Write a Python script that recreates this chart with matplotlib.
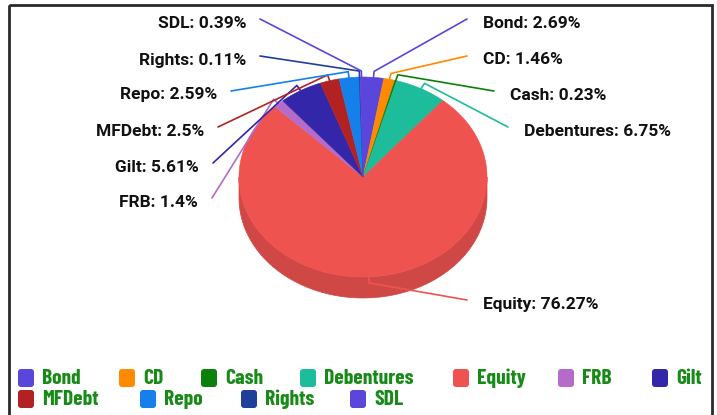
import numpy as np
import matplotlib
matplotlib.use("Agg")
import matplotlib.pyplot as plt
from matplotlib import font_manager as fm
from matplotlib.patches import Polygon, FancyBboxPatch, Rectangle

# ---------------- data ----------------
categories = ["Bond", "CD", "Cash", "Debentures", "Equity", "FRB", "Gilt",
              "MFDebt", "Repo", "Rights", "SDL"]
values = [2.69, 1.46, 0.23, 6.75, 76.27, 1.4, 5.61, 2.5, 2.59, 0.11, 0.39]
colors = ["#5a46da", "#ff8a00", "#0b800b", "#1dbc9a", "#ee5350", "#b56bc8",
          "#3326a8", "#b22222", "#1580ea", "#1f3f9a", "#5a46da"]
value_labels = ["2.69%", "1.46%", "0.23%", "6.75%", "76.27%", "1.4%", "5.61%",
                "2.5%", "2.59%", "0.11%", "0.39%"]

# ---------------- layout ----------------
W, H = 717, 415
cx, cy, rx, ry, depth = 363, 177, 124, 100, 21
# label anchor: (side, x, y); side 'L' -> right-aligned text ending at x
label_pos = {
    "SDL": ("L", 246, 23), "Rights": ("L", 246, 60), "Repo": ("L", 217, 95),
    "MFDebt": ("L", 204, 131), "Gilt": ("L", 199, 167), "FRB": ("L", 198, 202),
    "Bond": ("R", 483, 23), "CD": ("R", 483, 60), "Cash": ("R", 510, 95),
    "Debentures": ("R", 524, 131), "Equity": ("R", 483, 304),
}
legend_pos = {
    "Bond": (18, 378), "CD": (119, 378), "Cash": (201, 378), "Debentures": (300, 378),
    "Equity": (453, 378), "FRB": (558, 378), "Gilt": (652, 378),
    "MFDebt": (18, 399), "Repo": (140, 399), "Rights": (241, 399), "SDL": (350, 399),
}


def pick_font(cands, fallback):
    avail = {f.name for f in fm.fontManager.ttflist}
    for c in cands:
        if c in avail:
            return c
    return fallback


label_font = pick_font(["Roboto", "Liberation Sans"], "DejaVu Sans")
legend_font = pick_font(["Barlow Condensed", "Roboto Condensed", "Asap Condensed",
                         "Encode Sans Condensed", "Archivo Narrow"], "DejaVu Sans")


def darker(c, f=0.87):
    r, g, b = matplotlib.colors.to_rgb(c)
    return (r * f, g * f, b * f)


fig = plt.figure(figsize=(W / 100, H / 100), dpi=100)
ax = fig.add_axes([0, 0, 1, 1])
ax.set_xlim(0, W)
ax.set_ylim(H, 0)
ax.axis("off")


def pt(theta, r=1.0, dy=0.0):
    t = np.radians(theta)
    return cx + r * rx * np.sin(t), cy - r * ry * np.cos(t) + dy


total = sum(values)
bounds = np.concatenate([[0], np.cumsum(values)]) / total * 360.0

# side walls (front half: 90..270 deg)
for i in range(len(values)):
    a0, a1 = max(bounds[i], 90), min(bounds[i + 1], 270)
    if a1 <= a0:
        continue
    th = np.linspace(a0, a1, 120)
    top = np.array([pt(t) for t in th])
    bot = np.array([pt(t, dy=depth) for t in th[::-1]])
    ax.add_patch(Polygon(np.vstack([top, bot]), closed=True,
                         facecolor=darker(colors[i]), edgecolor=darker(colors[i]),
                         lw=0.5, zorder=1))

# top faces
for i in range(len(values)):
    th = np.linspace(bounds[i], bounds[i + 1], max(3, int((bounds[i + 1] - bounds[i]) * 2)))
    arc = np.array([pt(t) for t in th])
    poly = np.vstack([[cx, cy], arc])
    ax.add_patch(Polygon(poly, closed=True, facecolor=colors[i],
                         edgecolor=colors[i], lw=0.4, zorder=2))

# labels and leader lines
for i, cat in enumerate(categories):
    side, lx, ly = label_pos[cat]
    mid = (bounds[i] + bounds[i + 1]) / 2
    ex, ey = pt(mid, 1.0)
    kx, ky = pt(mid, 1.06)
    if side == "L":
        sx = lx + 14
        ha = "right"
    else:
        sx = lx - 16
        ha = "left"
    sy = ly - 4
    ax.plot([sx, kx, ex], [sy, ky, ey], color=colors[i], lw=1.2,
            solid_capstyle="round", zorder=3)
    ax.text(lx, ly, f"{cat}: {value_labels[i]}", ha=ha, va="center",
            fontsize=12.5, fontweight="bold", family=label_font,
            color="#111111", zorder=4)

# legend
for i, cat in enumerate(categories):
    mx, my = legend_pos[cat]
    ax.add_patch(FancyBboxPatch((mx + 2, my - 7), 12, 14,
                                boxstyle="round,pad=2,rounding_size=3",
                                facecolor=colors[i], edgecolor="none", zorder=3))
    ax.text(mx + 24, my, cat, ha="left", va="center", fontsize=15.5,
            fontweight="bold", family=legend_font, color="#178a17", zorder=4)

# frame
ax.add_patch(Rectangle((9, 5), 703, 420, fill=False, edgecolor="#2a2a2a",
                       lw=2, zorder=5, clip_on=False))

fig.savefig("out.png", dpi=100)
